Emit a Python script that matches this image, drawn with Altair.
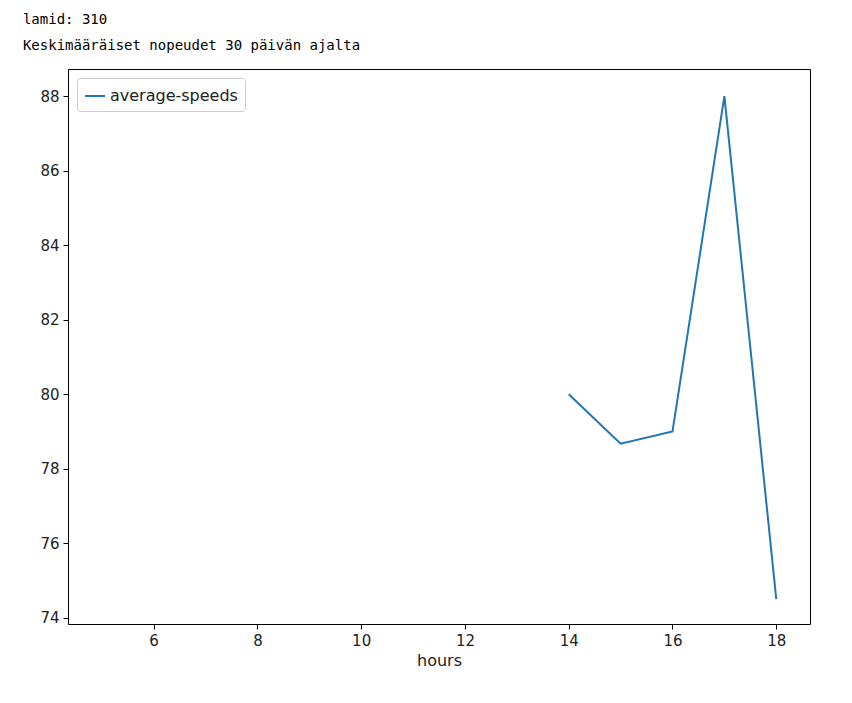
import altair as alt
import pandas as pd

hours = [5, 6, 7, 8, 9, 10, 11, 12, 13, 14, 15, 16, 17, 18]
speeds = [None, None, None, None, None, None, None, None, None, 80.0, 78.67, 79.0, 88.0, 74.5]
series = ["average-speeds"] * len(hours)

df = pd.DataFrame({"hours": hours, "speed": speeds, "series": series})

chart = alt.Chart(df).mark_line(strokeWidth=2).encode(
    x=alt.X("hours:Q", title="hours", scale=alt.Scale(domain=[4.35, 18.65], nice=False, zero=False),
            axis=alt.Axis(values=[6, 8, 10, 12, 14, 16, 18], grid=False, tickColor="black",
                          domain=False, labelFontSize=15, titleFontSize=16, titleFontWeight="normal",
                          labelColor="#222", titleColor="#222", tickSize=5, labelPadding=4)),
    y=alt.Y("speed:Q", title=None, scale=alt.Scale(domain=[73.83, 88.73], nice=False, zero=False),
            axis=alt.Axis(values=[74, 76, 78, 80, 82, 84, 86, 88], grid=False, tickColor="black",
                          domain=False, labelFontSize=15, labelColor="#222", tickSize=5, labelPadding=4)),
    color=alt.Color("series:N", scale=alt.Scale(range=["#1f77b4"]),
                    legend=alt.Legend(title=None, orient="top-left", labelFontSize=16,
                                      symbolType="stroke", symbolStrokeWidth=2, symbolSize=400,
                                      strokeColor="#ccc", fillColor="white", cornerRadius=3,
                                      padding=7, offset=9, labelColor="#222")),
).properties(
    width=742,
    height=555,
    autosize=alt.AutoSizeParams(type="none"),
    padding={"left": 60, "top": 61, "right": 10, "bottom": 60},
    title=alt.TitleParams(["lamid: 310", "Keskimääräiset nopeudet 30 päivän ajalta"],
                          anchor="start", font="DejaVu Sans Mono", fontSize=14,
                          fontWeight="normal", lineHeight=26, dx=-17, offset=16, color="black"),
).configure_view(stroke="black", strokeWidth=1).configure_axis(labelFont="DejaVu Sans", titleFont="DejaVu Sans"
).configure_legend(labelFont="DejaVu Sans")

chart.save("out.html", embed_options={"renderer": "svg", "actions": False})
